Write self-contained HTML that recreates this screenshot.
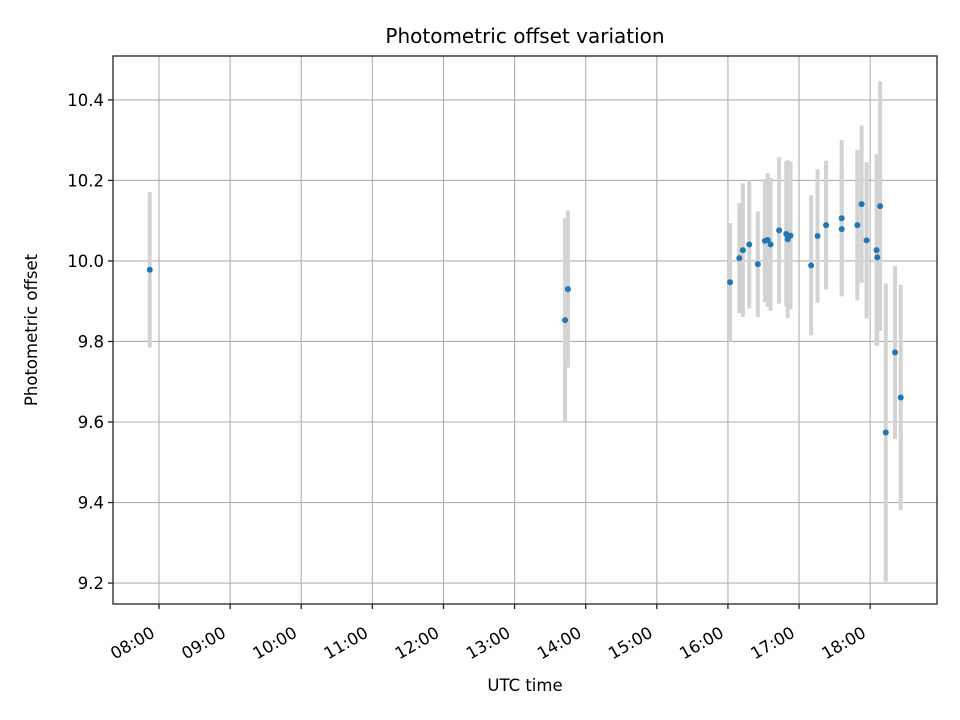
<!DOCTYPE html>
<html><head><meta charset="utf-8"><style>body{margin:0;background:#fff}svg{display:block;font-family:"DejaVu Sans","Liberation Sans",sans-serif}</style></head>
<body>
<svg id="chart" width="960" height="720" viewBox="0 0 960 720">
<rect width="960" height="720" fill="#fff"/>
<g id="grid"></g><g id="bars"></g><g id="pts"></g><g id="axes"></g>
<text x="525" y="43" text-anchor="middle" font-size="20">Photometric offset variation</text>
<text x="525" y="691" text-anchor="middle" font-size="16.5">UTC time</text>
<text transform="translate(37,330) rotate(-90)" text-anchor="middle" font-size="16.5">Photometric offset</text>
</svg>
<script>
const hours=[7.87,13.71,13.75,16.03,16.16,16.21,16.30,16.42,16.52,16.56,16.60,16.72,16.82,16.84,16.88,17.17,17.26,17.38,17.60,17.60,17.82,17.88,17.95,18.09,18.10,18.14,18.22,18.35,18.43];
const values=[9.978,9.853,9.930,9.947,10.007,10.027,10.041,9.992,10.050,10.052,10.041,10.076,10.067,10.054,10.063,9.989,10.062,10.089,10.106,10.079,10.089,10.141,10.051,10.027,10.009,10.136,9.574,9.773,9.661];
const errors=[0.193,0.253,0.195,0.147,0.137,0.166,0.159,0.131,0.153,0.166,0.165,0.182,0.18,0.196,0.183,0.174,0.166,0.16,0.194,0.15,0.187,0.195,0.194,0.238,0.22,0.31,0.37,0.215,0.28];
const yTicks=[9.2,9.4,9.6,9.8,10.0,10.2,10.4];
const xTicks=[8,9,10,11,12,13,14,15,16,17,18];
const X0=113,X1=937,Y0=56,Y1=604,HMIN=7.353,HMAX=18.94,VMIN=9.148,VMAX=10.509;
const sx=h=>X0+(h-HMIN)/(HMAX-HMIN)*(X1-X0);
const sy=v=>Y1-(v-VMIN)/(VMAX-VMIN)*(Y1-Y0);
const NS="http://www.w3.org/2000/svg";
function mk(tag,attrs,parent){const e=document.createElementNS(NS,tag);for(const k in attrs)e.setAttribute(k,attrs[k]);document.getElementById(parent).appendChild(e);return e;}
xTicks.forEach(h=>{const x=sx(h);
const g=mk('line',{x1:x,x2:x,y1:Y0,y2:Y1,stroke:'#b0b0b0','stroke-width':1.1},'grid');


const t=mk('line',{x1:x,x2:x,y1:Y1,y2:Y1+5,stroke:'#222','stroke-width':1.3},'axes');


const lx=x-3,ly=Y1+32;
const lb=mk('text',{x:lx,y:ly,'text-anchor':'end','font-size':16.5,transform:`rotate(-30 ${lx} ${ly})`},'axes');
lb.textContent=String(h).padStart(2,'0')+':00';


});
yTicks.forEach(v=>{const y=sy(v);
const g=mk('line',{x1:X0,x2:X1,y1:y,y2:y,stroke:'#b0b0b0','stroke-width':1.1},'grid');


const t=mk('line',{x1:X0-5,x2:X0,y1:y,y2:y,stroke:'#222','stroke-width':1.3},'axes');


const lb=mk('text',{x:X0-9,y:y+6,'text-anchor':'end','font-size':16.5},'axes');
lb.textContent=v.toFixed(1);


});
const fr=mk('rect',{x:X0,y:Y0,width:X1-X0,height:Y1-Y0,fill:'none',stroke:'#222','stroke-width':1.3},'axes');


hours.forEach((h,i)=>{const x=sx(h);
const b=mk('line',{x1:x,x2:x,y1:sy(values[i]+errors[i]),y2:sy(values[i]-errors[i]),stroke:'#d3d3d3','stroke-width':4},'bars');


const p=mk('circle',{cx:x,cy:sy(values[i]),r:3,fill:'#1f77b4'},'pts');


});
</script>
</body></html>
